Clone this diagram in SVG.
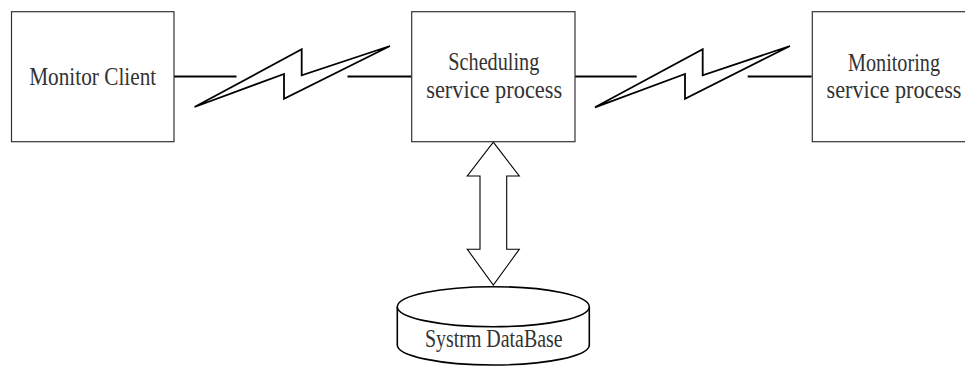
<svg xmlns="http://www.w3.org/2000/svg" width="965" height="366" viewBox="0 0 965 366">
  <style>
    .box { fill: #ffffff; stroke: #333333; stroke-width: 1.2; }
    .label { font-family: "Liberation Serif", "DejaVu Serif", serif; font-size: 26px; fill: #333333; text-anchor: middle; }
    .wire { fill: none; stroke: #000000; stroke-width: 1.8; }
    .bolt { fill: #ffffff; stroke: #000000; stroke-width: 1.8; stroke-linejoin: miter; }
    .dbl { fill: #ffffff; stroke: #000000; stroke-width: 1.1; }
    .cyl { fill: #ffffff; stroke: #000000; stroke-width: 1.6; }
  </style>
  <rect width="965" height="366" fill="#ffffff"/>

  <!-- links between the processes -->
  <g id="connectors">
    <line class="wire" x1="174" y1="76.5" x2="236.5" y2="76.5"/>
    <polygon class="bolt" points="194.5,107 301.7,49.3 301.7,75.3 390,46 284,98.7 284,74"/>
    <line class="wire" x1="347.5" y1="76.5" x2="411.7" y2="76.5"/>

    <line class="wire" x1="575" y1="76.5" x2="636.7" y2="76.5"/>
    <polygon class="bolt" points="595,107.3 702.7,49.3 702.7,75.3 790,46 685,98.7 685,74"/>
    <line class="wire" x1="747.7" y1="76.5" x2="811.7" y2="76.5"/>

    <!-- two-way data arrow to the database -->
    <polygon class="dbl" points="493.3,142.2 519.3,176 506.7,176 506.7,249.3 519.3,249.3 493.3,285 467.3,249.3 480,249.3 480,176 467.3,176"/>
  </g>

  <g id="monitor-client">
    <rect class="box" x="11.5" y="11.7" width="162.5" height="130"/>
    <text class="label" x="92.7" y="85" textLength="127" lengthAdjust="spacingAndGlyphs">Monitor Client</text>
  </g>

  <g id="scheduling-service">
    <rect class="box" x="411.7" y="11.7" width="163.3" height="130"/>
    <text class="label" x="493.8" y="70" textLength="91" lengthAdjust="spacingAndGlyphs">Scheduling</text>
    <text class="label" x="494.2" y="98.3" textLength="136" lengthAdjust="spacingAndGlyphs">service process</text>
  </g>

  <g id="monitoring-service">
    <rect class="box" x="812.3" y="11.7" width="164" height="130"/>
    <text class="label" x="894" y="70.5" textLength="92" lengthAdjust="spacingAndGlyphs">Monitoring</text>
    <text class="label" x="894" y="98.3" textLength="135" lengthAdjust="spacingAndGlyphs">service process</text>
  </g>

  <g id="system-database">
    <path class="cyl" d="M397.3,306.7 L397.3,345 A96,20 0 0 0 589.3,345 L589.3,306.7"/>
    <ellipse class="cyl" cx="493.3" cy="306.7" rx="96" ry="20"/>
    <text class="label" x="493.8" y="346.7" textLength="137.5" lengthAdjust="spacingAndGlyphs">Systrm DataBase</text>
  </g>
</svg>
